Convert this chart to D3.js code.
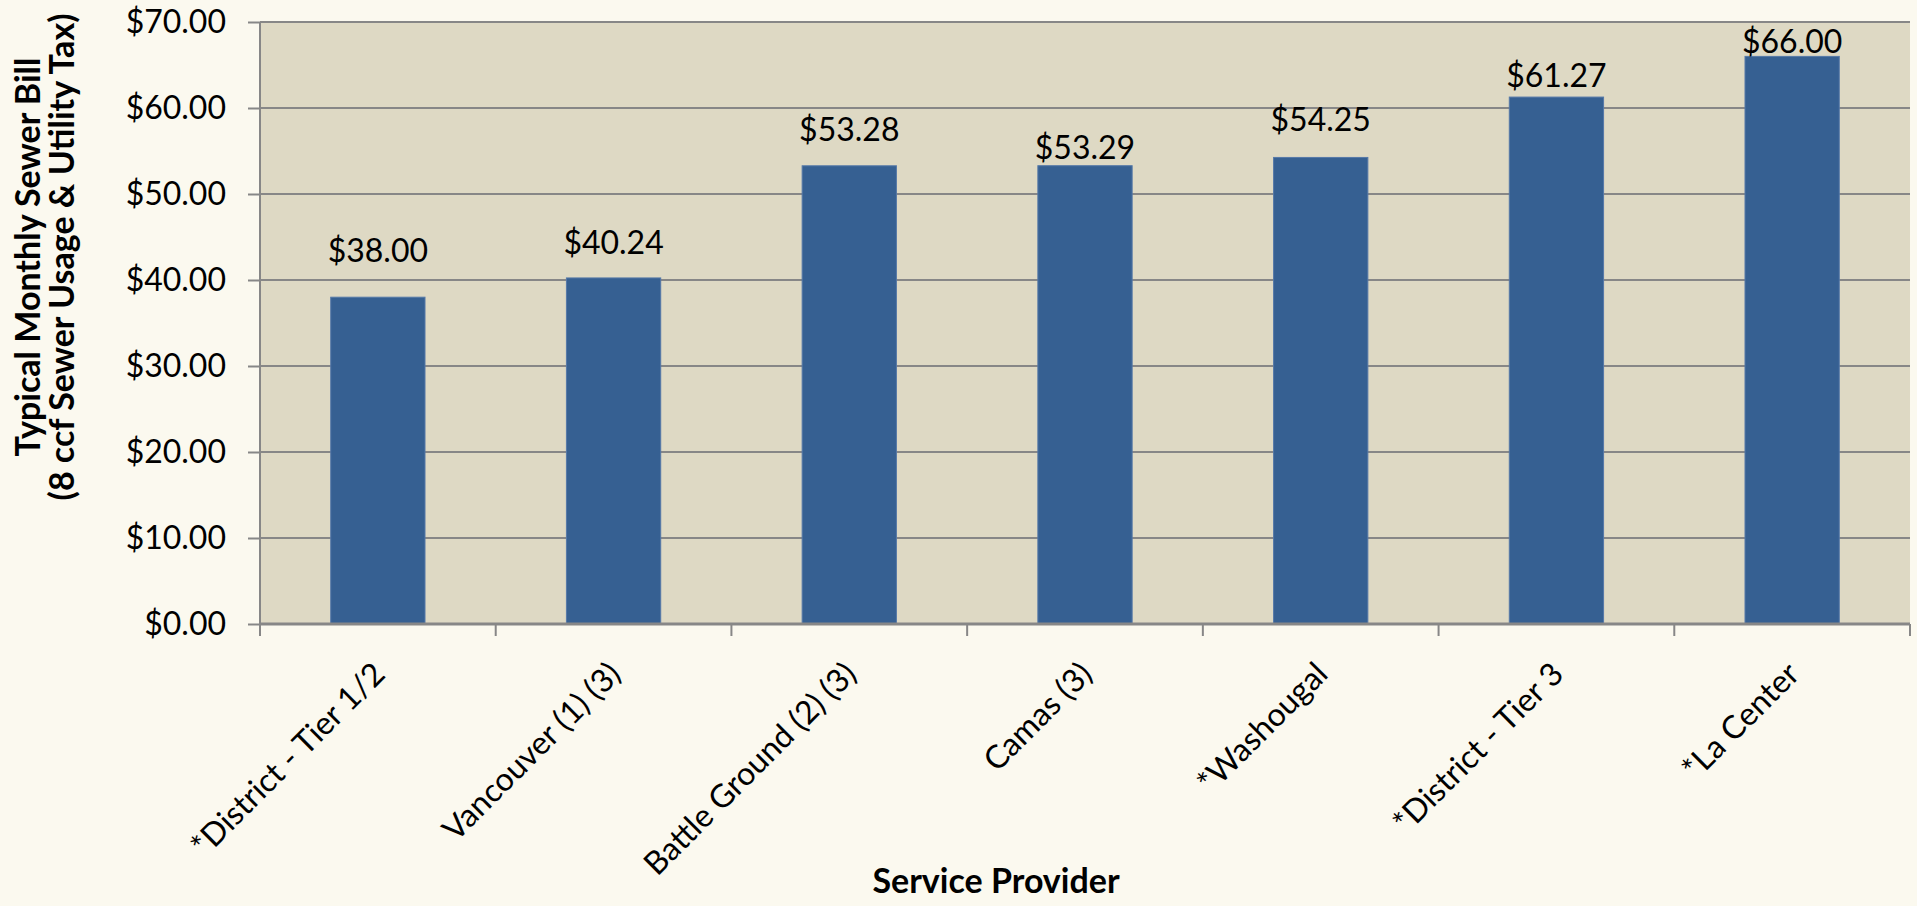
<!DOCTYPE html>
<html>
<head>
<meta charset="utf-8">
<script src="https://cdn.jsdelivr.net/npm/d3@7"></script>
<style>
    body { margin: 0; background: #fbf9ef; }
    svg { display: block; }
    text { font-family: Lato, "Open Sans", sans-serif; fill: #000; }
</style>
</head>
<body>
<div id="chart"></div>
<script>
// chart values
const providers = ["*District - Tier 1/2", "Vancouver (1) (3)", "Battle Ground (2) (3)", "Camas (3)",
    "*Washougal", "*District - Tier 3", "*La Center"];
const monthlyBill = [38.00, 40.24, 53.28, 53.29, 54.25, 61.27, 66.00];
const yTicks = [0, 10, 20, 30, 40, 50, 60, 70];
const yTitleLines = ["Typical Monthly Sewer Bill", "(8 ccf Sewer Usage & Utility Tax)"];
const xTitle = "Service Provider";

// the value labels were hand-placed in the original, so each sits a little differently above its bar
const labelLift = [35, 24, 25, 7, 26, 10, 3];

const margin = { top: 22, right: 7, bottom: 282, left: 260 };
const totalW = 1917, totalH = 906;
const width = totalW - margin.left - margin.right;
const height = totalH - margin.top - margin.bottom;

const fmt = v => "$" + v.toFixed(2);

let svg = d3.select("#chart").append("svg")
    .attr("width", totalW)
    .attr("height", totalH);

let g = svg.append("g")
    .attr("transform", "translate(" + margin.left + "," + margin.top + ")");

let x = d3.scaleBand()
    .domain(providers)
    .range([0, width])
    .paddingInner(0.6)
    .paddingOuter(0.3);

let y = d3.scaleLinear()
    .domain([0, 70])
    .range([height, 0]);

// plot background
g.append("rect")
    .attr("width", width)
    .attr("height", height)
    .attr("fill", "#ded9c4");

// gridlines
g.append("g")
    .selectAll("line")
    .data(yTicks)
    .enter()
    .append("line")
    .attr("x1", 0)
    .attr("x2", width)
    .attr("y1", d => y(d))
    .attr("y2", d => y(d))
    .attr("stroke", "#878787")
    .attr("stroke-width", 2);

// bars
g.append("g")
    .selectAll("rect")
    .data(monthlyBill)
    .enter()
    .append("rect")
    .attr("x", (d, i) => x(providers[i]))
    .attr("y", d => y(d))
    .attr("width", x.bandwidth())
    .attr("height", d => height - y(d))
    .attr("fill", "#366092")
    .attr("stroke", "#5579a8")
    .attr("stroke-width", 1);

// value labels
g.append("g")
    .selectAll("text")
    .data(monthlyBill)
    .enter()
    .append("text")
    .attr("x", (d, i) => x(providers[i]) + x.bandwidth() / 2)
    .attr("y", (d, i) => y(d) - labelLift[i])
    .attr("text-anchor", "middle")
    .style("font-size", "32px")
    .text(d => fmt(d));

// y axis
let yAxis = d3.axisLeft(y)
    .tickValues(yTicks)
    .tickSize(12)
    .tickPadding(22)
    .tickFormat(d => fmt(d));

let yAxisG = g.append("g").call(yAxis);
yAxisG.select(".domain").remove();
yAxisG.selectAll("line").attr("stroke", "#878787").attr("stroke-width", 2);
yAxisG.selectAll("text")
    .style("font-family", "Lato, sans-serif")
    .style("font-size", "32px")
    .attr("fill", "#000");

// x axis: ticks sit on the band edges, labels at the band centres
let step = x.step();
let edges = d3.range(providers.length + 1).map(i => i * step);

let xAxisG = g.append("g")
    .attr("transform", "translate(0," + height + ")");

xAxisG.selectAll("line.edge")
    .data(edges)
    .enter()
    .append("line")
    .attr("class", "edge")
    .attr("x1", d => d)
    .attr("x2", d => d)
    .attr("y1", 0)
    .attr("y2", 12)
    .attr("stroke", "#878787")
    .attr("stroke-width", 2);

xAxisG.append("line")
    .attr("x1", 0)
    .attr("x2", width)
    .attr("stroke", "#878787")
    .attr("stroke-width", 3);

xAxisG.selectAll("text.cat")
    .data(providers)
    .enter()
    .append("text")
    .attr("class", "cat")
    .attr("text-anchor", "end")
    .attr("transform", d => "translate(" + (x(d) + x.bandwidth() / 2 + 9) + ",52) rotate(-45)")
    .style("font-size", "32px")
    .text(d => d);

// left axis line
g.append("line")
    .attr("x1", 0)
    .attr("x2", 0)
    .attr("y1", 0)
    .attr("y2", height + 12)
    .attr("stroke", "#878787")
    .attr("stroke-width", 2);

// axis titles
svg.append("text")
    .attr("text-anchor", "middle")
    .attr("transform", "translate(40,257) rotate(-90)")
    .style("font-size", "34px")
    .style("font-weight", "bold")
    .text(yTitleLines[0]);

svg.append("text")
    .attr("text-anchor", "middle")
    .attr("transform", "translate(74,257) rotate(-90)")
    .style("font-size", "34px")
    .style("font-weight", "bold")
    .text(yTitleLines[1]);

svg.append("text")
    .attr("text-anchor", "middle")
    .attr("x", 996)
    .attr("y", 893)
    .style("font-size", "34px")
    .style("font-weight", "bold")
    .text(xTitle);
</script>
</body>
</html>
